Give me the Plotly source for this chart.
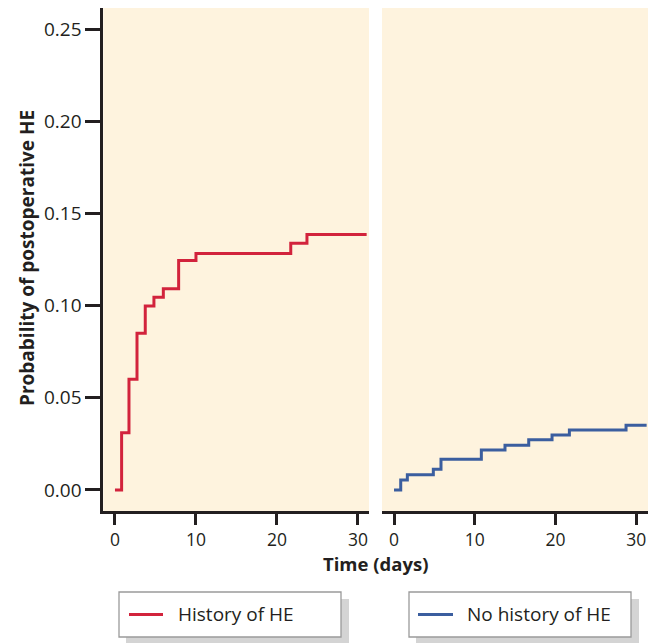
import plotly.graph_objects as go

# ---- data ----
hist_days = [0, 0.82, 1.73, 2.72, 3.74, 4.81, 5.97, 7.86, 10.0, 21.7, 23.7, 31.07]
hist_prob = [0.0, 0.0311, 0.060, 0.085, 0.0998, 0.1045, 0.1092, 0.1244, 0.1283, 0.1338, 0.1386, 0.1386]

nohist_days = [0, 0.83, 1.65, 4.87, 5.82, 10.82, 13.75, 16.69, 19.58, 21.73, 28.75, 31.3]
nohist_prob = [0.0, 0.0054, 0.0083, 0.0112, 0.0166, 0.0217, 0.0242, 0.0273, 0.0298, 0.0325, 0.0351, 0.0351]

x_ticks = [0, 10, 20, 30]
y_ticks = [0.00, 0.05, 0.10, 0.15, 0.20, 0.25]
series_names = ["History of HE", "No history of HE"]

RED = "#d2233c"
BLUE = "#3b5e9f"
BG = "#fef3de"
INK = "#231f20"
FONT = "Open Sans"

W, H = 660, 643
OFF = 8  # page body margin offset

def px_x(p):
    return (p - OFF) / W

def px_y(p):
    return min(1.0, max(0.0, 1 - (p - OFF) / H))

fig = go.Figure()
fig.add_trace(go.Scatter(x=hist_days, y=hist_prob, mode="lines", line_shape="hv",
                         line=dict(color=RED, width=3), name=series_names[0],
                         xaxis="x", yaxis="y", showlegend=False))
fig.add_trace(go.Scatter(x=nohist_days, y=nohist_prob, mode="lines", line_shape="hv",
                         line=dict(color=BLUE, width=3), name=series_names[1],
                         xaxis="x2", yaxis="y2", showlegend=False))

xcommon = dict(tickvals=x_ticks, ticks="outside", ticklen=11, tickwidth=2.5, tickcolor=INK,
               showline=True, linecolor=INK, linewidth=3, showgrid=False, zeroline=False,
               tickfont=dict(family=FONT, size=17.5, color=INK), fixedrange=True)
yrange = [-0.0114, 0.2614]

fig.update_layout(
    width=W, height=H,
    margin=dict(l=0, r=0, t=0, b=0),
    paper_bgcolor="white", plot_bgcolor=BG,
    font=dict(family=FONT, color=INK),
    xaxis=dict(domain=[px_x(103.3), px_x(369)], range=[-1.44, 31.36], anchor="y", **xcommon),
    xaxis2=dict(domain=[px_x(382), px_x(648)], range=[-1.49, 31.47], anchor="y2", **xcommon),
    yaxis=dict(domain=[px_y(511), 1.0], range=yrange, tickvals=y_ticks, tickformat=".2f",
               ticks="outside", ticklen=15, tickwidth=2.5, tickcolor=INK,
               showline=True, linecolor=INK, linewidth=3, showgrid=False, zeroline=False,
               tickfont=dict(family=FONT, size=19, color=INK), anchor="x"),
    yaxis2=dict(domain=[px_y(511), 1.0], range=yrange, showticklabels=False, ticks="",
                showline=False, showgrid=False, zeroline=False, anchor="x2"),
)

annotations = [
    dict(text="<b>Time (days)</b>", xref="paper", yref="paper", x=px_x(375), y=px_y(563),
         showarrow=False, font=dict(family=FONT, size=18.5, color=INK), xanchor="center", yanchor="middle"),
    dict(text="<b>Probability of postoperative HE</b>", xref="paper", yref="paper",
         x=px_x(27), y=px_y(258), textangle=-90, showarrow=False,
         font=dict(family=FONT, size=19, color=INK), xanchor="center", yanchor="middle"),
]

shapes = []
legend_boxes = [(119, 341, 129, 163, 176, RED), (409, 631, 418, 453, 465, BLUE)]
for (bx0, bx1, lx0, lx1, tx, col), name in zip(legend_boxes, series_names):
    # shadow
    shapes.append(dict(type="rect", xref="paper", yref="paper",
                       x0=px_x(bx0 + 7), x1=px_x(bx1 + 8), y0=px_y(645), y1=px_y(599),
                       fillcolor="#d4d4d4", line=dict(width=0), layer="below"))
    # box
    shapes.append(dict(type="rect", xref="paper", yref="paper",
                       x0=px_x(bx0), x1=px_x(bx1), y0=px_y(637), y1=px_y(592),
                       fillcolor="white", line=dict(color="#9a9a9a", width=1.3)))
    # sample line
    shapes.append(dict(type="line", xref="paper", yref="paper",
                       x0=px_x(lx0), x1=px_x(lx1), y0=px_y(614.5), y1=px_y(614.5),
                       line=dict(color=col, width=3)))
    annotations.append(dict(text=name, xref="paper", yref="paper", x=px_x(tx), y=px_y(614),
                            showarrow=False, xanchor="left", yanchor="middle",
                            font=dict(family=FONT, size=19, color=INK)))

fig.update_layout(annotations=annotations, shapes=shapes)
fig.write_html("out.html")
